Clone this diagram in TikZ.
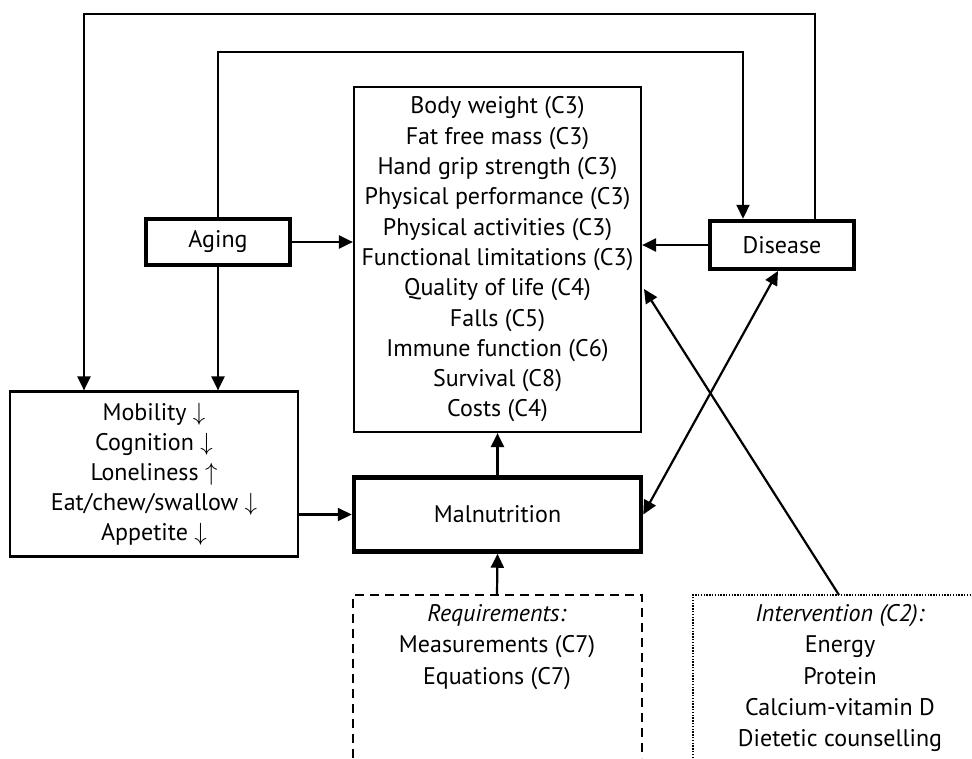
\documentclass[tikz,border=0pt]{standalone}
\usepackage{fontspec}
\setmainfont{PT Sans}
\usetikzlibrary{arrows.meta,calc}
\begin{document}
\begin{tikzpicture}[x=1pt,y=-1pt,
  every node/.style={font=\fontsize{24}{30.3}\selectfont},
  box/.style={draw,line width=2.2pt,inner sep=0pt,align=center},
  thickbox/.style={draw,line width=4.5pt,inner sep=0pt,align=center},
  arr/.style={line width=2.2pt,-{Triangle[length=14pt,width=13pt]}},
  dblarr/.style={line width=2.2pt,{Triangle[length=14pt,width=13pt]}-{Triangle[length=14pt,width=13pt]}},
  dashbox/.style={line width=2.2pt,dash pattern=on 9pt off 6pt},
  dotbox/.style={line width=2pt,dash pattern=on 1.4pt off 1.4pt}]
\useasboundingbox (0,0) rectangle (972,758);

\node[thickbox,minimum width=144,minimum height=46] (aging) at (218,242) {Aging};
\node[thickbox,minimum width=144,minimum height=48] (dis) at (782,245) {Disease};
\node[box,minimum width=287,minimum height=345] (out) at (497.5,259.5) {Body weight (C3)\\Fat free mass (C3)\\Hand grip strength (C3)\\Physical performance (C3)\\Physical activities (C3)\\Functional limitations (C3)\\Quality of life (C4)\\Falls (C5)\\Immune function (C6)\\Survival (C8)\\Costs (C4)};
\node[box,minimum width=288,minimum height=165,font=\fontsize{24}{30}\selectfont] (mob) at (154,474) {Mobility $\downarrow$\\Cognition $\downarrow$\\Loneliness $\uparrow$\\Eat/chew/swallow $\downarrow$\\Appetite $\downarrow$};
\node[thickbox,minimum width=287,minimum height=74] (mal) at (497.5,514.5) {Malnutrition};
\node[align=center,inner sep=0pt,font=\fontsize{24}{31.5}\selectfont] (req) at (497,647) {\textit{Requirements:}\\Measurements (C7)\\Equations (C7)};
\node[align=center,inner sep=0pt,font=\fontsize{24}{31.3}\selectfont] (int) at (840,678) {\textit{Intervention (C2):}\\Energy\\Protein\\Calcium-vitamin D\\Dietetic counselling};

\draw[dashbox] (353,758) -- (353,595) -- (642,595) -- (642,758);
\draw[dotbox] (693,758) -- (693,595) -- (972,595);

\coordinate (c1) at (743,52);
\coordinate (c2) at (815,14);
\coordinate (c3) at (84,14);
\coordinate (reqtop) at (497,595);
\coordinate (inttop) at (839,595);
\coordinate (outr) at (644,289);
\coordinate (disb) at (778,271);

\draw[arr] (aging.east) -- (aging.east -| out.west);
\draw[arr] (dis.west) -- (dis.west -| out.east);
\draw[arr] (aging.south) -- (aging.south |- mob.north);
\draw[arr] (aging.north) -- (aging.north |- c1) -- (c1) -- (c1 |- dis.north);
\draw[arr] (c2 |- dis.north) -- (c2) -- (c3) -- (c3 |- mob.north);
\draw[arr] (mal.west -| mob.east) -- (mal.west);
\draw[arr] (mal.north) -- (out.south);
\draw[arr] (reqtop) -- (mal.south);
\draw[dblarr] (disb) -- (mal.east);
\draw[arr] (inttop) -- (outr);
\end{tikzpicture}
\end{document}
